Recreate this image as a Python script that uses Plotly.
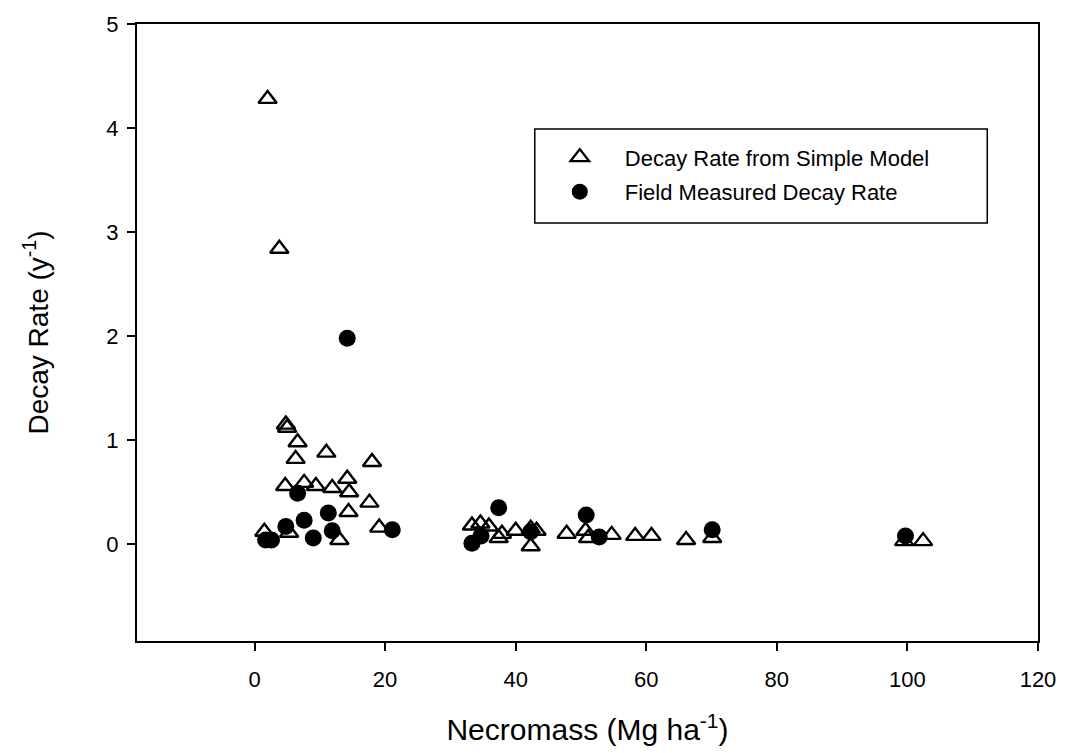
import plotly.graph_objects as go

# Necromass (Mg ha-1) and decay rate (y-1) values
model_x = [2.0, 3.8, 4.8, 5.0, 6.6, 6.3, 11.0, 18.0, 4.7, 7.6, 9.4, 11.9, 14.2, 14.5,
           17.6, 14.4, 19.1, 1.5, 5.3, 13.0, 33.3, 34.6, 35.9, 37.4, 37.9, 40.0, 42.3,
           43.2, 42.3, 47.8, 50.7, 51.1, 54.7, 58.3, 60.8, 66.1, 70.1, 99.5, 102.4]
model_y = [4.28, 2.84, 1.15, 1.12, 0.98, 0.82, 0.88, 0.79, 0.56, 0.59, 0.56, 0.54, 0.63, 0.50,
           0.40, 0.31, 0.16, 0.12, 0.11, 0.04, 0.18, 0.20, 0.17, 0.06, 0.10, 0.13, 0.15,
           0.13, -0.02, 0.10, 0.13, 0.06, 0.09, 0.08, 0.08, 0.04, 0.06, 0.03, 0.03]

field_x = [1.7, 2.6, 4.8, 6.6, 7.6, 9.0, 11.3, 11.9, 14.2, 21.1, 33.3, 34.7, 37.4,
           42.3, 50.8, 52.8, 70.1, 99.7]
field_y = [0.04, 0.04, 0.17, 0.49, 0.23, 0.06, 0.30, 0.13, 1.98, 0.14, 0.01, 0.08, 0.35,
           0.12, 0.28, 0.07, 0.14, 0.08]

x_ticks = [0, 20, 40, 60, 80, 100, 120]
y_ticks = [0, 1, 2, 3, 4, 5]

FONT = "Arial, 'Liberation Sans', sans-serif"

fig = go.Figure()
fig.add_trace(go.Scatter(
    x=model_x, y=model_y, mode="markers", name="Decay Rate from Simple Model",
    legendgroup="a",
    marker=dict(symbol="triangle-up-open", size=16, color="black",
                line=dict(width=2.4, color="black")),
))
fig.add_trace(go.Scatter(
    x=field_x, y=field_y, mode="markers", name="Field Measured Decay Rate",
    legendgroup="b",
    marker=dict(symbol="circle", size=17, color="black", line=dict(width=0)),
))

axis_common = dict(
    showline=True, linecolor="black", linewidth=2, mirror=True,
    ticks="outside", ticklen=8, tickwidth=2, tickcolor="black",
    showgrid=False, zeroline=False,
    tickfont=dict(family=FONT, size=22, color="black"),
)

fig.update_xaxes(
    range=[-18, 120], tickvals=x_ticks, ticktext=[str(v) for v in x_ticks],
    ticklabelstandoff=10,
    title=dict(text="Necromass (Mg ha<sup>-1</sup>)",
               font=dict(family=FONT, size=30, color="black"), standoff=28),
    **axis_common,
)
fig.update_yaxes(
    range=[-0.93, 5], tickvals=y_ticks, ticktext=[str(v) for v in y_ticks],
    ticklabelstandoff=4,
    title=dict(text="Decay Rate (y<sup>-1</sup>)",
               font=dict(family=FONT, size=28, color="black"), standoff=50),
    **axis_common,
)

# legend frame
fig.add_shape(type="rect", xref="paper", yref="paper",
              x0=0.4415, x1=0.9437, y0=0.6774, y1=0.8299,
              line=dict(color="black", width=1.5), fillcolor="rgba(0,0,0,0)")

fig.update_layout(
    width=1068, height=753,
    margin=dict(l=137, r=25, t=21, b=109),
    paper_bgcolor="white", plot_bgcolor="white",
    font=dict(family=FONT, color="black"),
    showlegend=True,
    legend=dict(
        x=0.4415, y=0.818, xanchor="left", yanchor="top",
        bgcolor="rgba(0,0,0,0)", borderwidth=0,
        font=dict(family=FONT, size=22, color="black"),
        itemwidth=80, tracegroupgap=3, traceorder="grouped",
    ),
)

fig.write_html("out.html")
